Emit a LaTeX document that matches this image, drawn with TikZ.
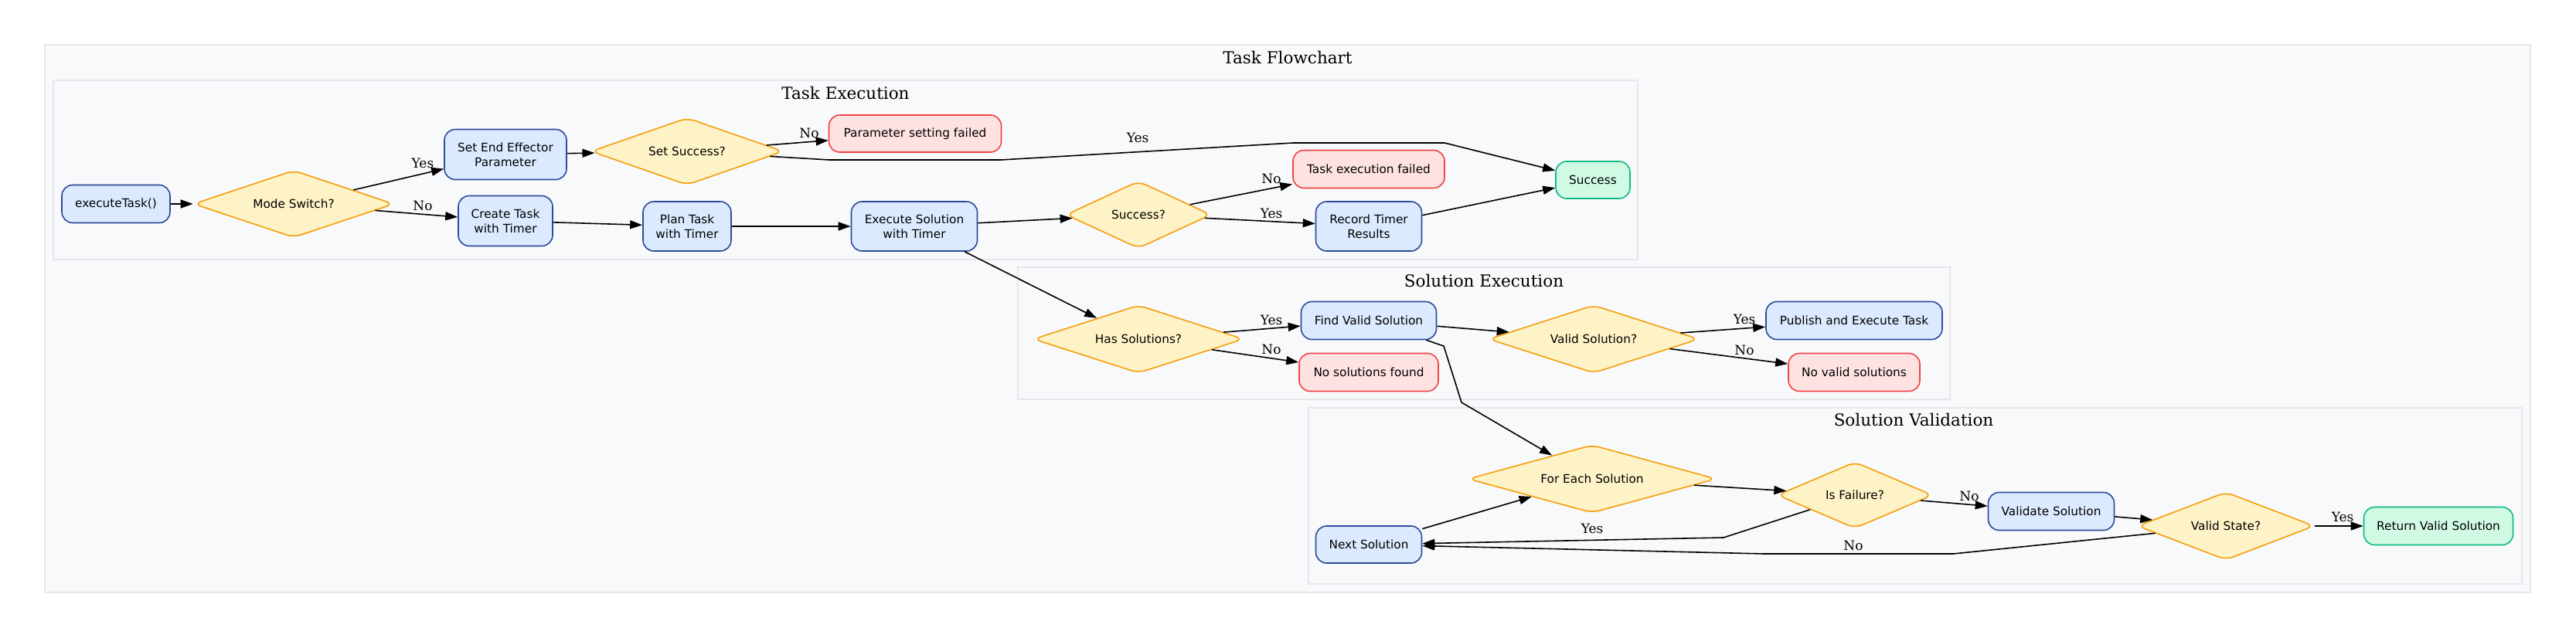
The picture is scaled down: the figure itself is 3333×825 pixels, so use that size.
\documentclass[tikz,border=0pt]{standalone}
\usepackage{fontspec}
\setmainfont{DejaVu Serif}
\newfontfamily\nodefont{DejaVu Sans}
\usetikzlibrary{shapes.geometric,arrows.meta}
\definecolor{procF}{HTML}{DBEAFE}
\definecolor{procB}{HTML}{2F4A9A}
\definecolor{decF}{HTML}{FEF3C7}
\definecolor{decB}{HTML}{F59E0B}
\definecolor{failF}{HTML}{FEE2E2}
\definecolor{failB}{HTML}{EF4444}
\definecolor{okF}{HTML}{D1FAE5}
\definecolor{okB}{HTML}{10B981}
\definecolor{clF}{HTML}{F8F9FB}
\definecolor{clB}{HTML}{E5E7EB}
\begin{document}
\begin{tikzpicture}[x=1pt,y=-1pt,
  base/.style={line width=1.6pt, inner sep=0pt, align=center,
    font=\nodefont\fontsize{15.3}{19}\selectfont},
  proc/.style={base, draw=procB, fill=procF, rounded corners=14pt},
  fail/.style={base, draw=failB, fill=failF, rounded corners=14pt},
  okbox/.style={base, draw=okB, fill=okF, rounded corners=14pt},
  decision/.style={base, diamond, aspect=2.5, draw=decB, fill=decF, rounded corners=10pt},
  cluster/.style={draw=clB, fill=clF, line width=1.6pt},
  ctitle/.style={inner sep=0pt, font=\fontsize{21.5}{26}\selectfont},
  lbl/.style={inner sep=0pt, font=\fontsize{17}{20}\selectfont},
  edge/.style={line width=1.6pt, -{Triangle[length=16pt,width=11pt]}}
]
\useasboundingbox[fill=white] (0,0) rectangle (3333,825);

% clusters
\draw[cluster] (58,58) rectangle (3274,767);
\node[ctitle] (tOuter) at (1666,74) {Task Flowchart};
\draw[cluster] (69,104) rectangle (2119,336);
\node[ctitle] (tTE) at (1094,120) {Task Execution};
\draw[cluster] (1317,346) rectangle (2523,517);
\node[ctitle] (tSE) at (1920,363) {Solution Execution};
\draw[cluster] (1693,528) rectangle (3263,756);
\node[ctitle] (tSV) at (2476,543) {Solution Validation};

% Task Execution nodes
\node[proc, minimum width=140pt, minimum height=49pt] (start) at (150,264) {executeTask()};
\node[decision, minimum width=259pt, minimum height=87pt] (modesw) at (380,264) {Mode Switch?};
\node[proc, minimum width=158pt, minimum height=65pt] (setee) at (654,200) {Set End Effector\\Parameter};
\node[decision, minimum width=249pt, minimum height=87pt] (setsucc) at (889,196) {Set Success?};
\node[proc, minimum width=122pt, minimum height=65pt] (create) at (654,286) {Create Task\\with Timer};
\node[proc, minimum width=114pt, minimum height=64pt] (plan) at (889,293) {Plan Task\\with Timer};
\node[fail, minimum width=223pt, minimum height=48pt] (pfail) at (1184,173) {Parameter setting failed};
\node[proc, minimum width=163pt, minimum height=64pt] (execsol) at (1183,293) {Execute Solution\\with Timer};
\node[decision, minimum width=188pt, minimum height=87pt] (succq) at (1473,278) {Success?};
\node[fail, minimum width=196pt, minimum height=49pt] (tfail) at (1771,219) {Task execution failed};
\node[proc, minimum width=137pt, minimum height=64pt] (record) at (1771,293) {Record Timer\\Results};
\node[okbox, minimum width=96pt, minimum height=48pt] (success) at (2061,233) {Success};

% Solution Execution nodes
\node[decision, minimum width=272pt, minimum height=88pt] (hassol) at (1473,439) {Has Solutions?};
\node[proc, minimum width=175pt, minimum height=49pt] (findvalid) at (1771,415) {Find Valid Solution};
\node[fail, minimum width=180pt, minimum height=49pt] (nosol) at (1771,482) {No solutions found};
\node[decision, minimum width=272pt, minimum height=88pt] (validsol) at (2062,439) {Valid Solution?};
\node[proc, minimum width=228pt, minimum height=49pt] (publish) at (2399,415) {Publish and Execute Task};
\node[fail, minimum width=170pt, minimum height=49pt] (novalid) at (2399,482) {No valid solutions};

% Solution Validation nodes
\node[decision, minimum width=321pt, minimum height=88pt] (foreach) at (2060,620) {For Each Solution};
\node[decision, minimum width=201pt, minimum height=86pt] (isfail) at (2400,641) {Is Failure?};
\node[proc, minimum width=163pt, minimum height=49pt] (validate) at (2654,662) {Validate Solution};
\node[decision, minimum width=229pt, minimum height=88pt] (validstate) at (2880,681) {Valid State?};
\node[okbox, minimum width=193pt, minimum height=49pt] (retvalid) at (3155,681) {Return Valid Solution};
\node[proc, minimum width=137pt, minimum height=48pt] (next) at (1771,705) {Next Solution};

% edges
\draw[edge] (start) -- (modesw);
\draw[edge] (modesw) -- (setee);
\draw[edge] (modesw) -- (create);
\draw[edge] (setee) -- (setsucc);
\draw[edge] (setsucc) -- (pfail);
\draw[edge] (setsucc) -- (1073,207) -- (1295,207) -- (1673,185) -- (1869,185) -- (success);
\draw[edge] (create) -- (plan);
\draw[edge] (plan) -- (execsol);
\draw[edge] (execsol) -- (succq);
\draw[edge] (succq) -- (tfail);
\draw[edge] (succq) -- (record);
\draw[edge] (record) -- (success);
\draw[edge] (execsol) -- (hassol);
\draw[edge] (hassol) -- (findvalid);
\draw[edge] (hassol) -- (nosol);
\draw[edge] (findvalid) -- (validsol);
\draw[edge] (validsol) -- (publish);
\draw[edge] (validsol) -- (novalid);
\draw[edge] (findvalid) -- (1868,448) -- (1891,521) -- (foreach);
\draw[edge] (next) -- (foreach);
\draw[edge] (foreach) -- (isfail);
\draw[edge] (isfail) -- (validate);
\draw[edge] (validate) -- (validstate);
\draw[edge] (validstate) -- (retvalid);
\draw[edge] (isfail) -- (2230,696) -- (next);
\draw[edge] (validstate) -- (2527,717) -- (2283,717) -- (next);

% labels
\node[lbl] (l1) at (547,211) {Yes};
\node[lbl] (l2) at (547,266) {No};
\node[lbl] (l3) at (1047,172) {No};
\node[lbl] (l4) at (1472,178) {Yes};
\node[lbl] (l5) at (1645,231) {No};
\node[lbl] (l6) at (1645,276) {Yes};
\node[lbl] (l7) at (1645,414) {Yes};
\node[lbl] (l8) at (1645,452) {No};
\node[lbl] (l9) at (2257,413) {Yes};
\node[lbl] (l10) at (2257,453) {No};
\node[lbl] (l11) at (2548,642) {No};
\node[lbl] (l12) at (3031,669) {Yes};
\node[lbl] (l13) at (2060,684) {Yes};
\node[lbl] (l14) at (2398,706) {No};
\end{tikzpicture}
\end{document}
